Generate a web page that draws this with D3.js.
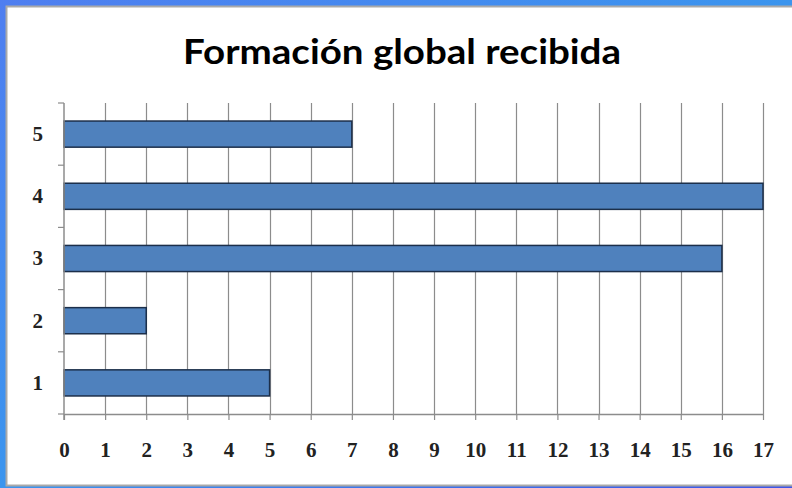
<!DOCTYPE html>
<html>
<head>
<meta charset="utf-8">
<script src="https://cdn.jsdelivr.net/npm/d3@7"></script>
<style>
  body { margin: 0; overflow: hidden; }
  svg { display: block; }
</style>
</head>
<body>
<script>
var width = 792,
    height = 488;

// data
var categories = ['1', '2', '3', '4', '5'];
var values = [5, 2, 16, 17, 7];
var xTicks = d3.range(0, 18);
var title = 'Formación global recibida';

var margin = {top: 103, left: 64, right: 29, bottom: 74};

var svg = d3.select('body').append('svg')
    .attr('width', width)
    .attr('height', height);

// blue frame behind the white panel
var defs = svg.append('defs');
var grad = defs.append('linearGradient')
    .attr('id', 'frame')
    .attr('x1', 0).attr('y1', 0).attr('x2', 1).attr('y2', 1);
grad.append('stop').attr('offset', '0%').attr('stop-color', '#4f7ef0');
grad.append('stop').attr('offset', '50%').attr('stop-color', '#3b95ee');
grad.append('stop').attr('offset', '100%').attr('stop-color', '#3f55e8');

svg.append('rect')
    .attr('width', width)
    .attr('height', height)
    .attr('fill', 'url(#frame)');

svg.append('rect')
    .attr('x', 6.5)
    .attr('y', 6.5)
    .attr('width', width)
    .attr('height', 479)
    .attr('fill', '#fff')
    .attr('stroke', '#a9a9a9')
    .attr('stroke-width', 2);

svg.append('text')
    .attr('x', 402)
    .attr('y', 64)
    .attr('text-anchor', 'middle')
    .attr('textLength', 438)
    .attr('lengthAdjust', 'spacingAndGlyphs')
    .style('font-family', 'Lato, "Open Sans", sans-serif')
    .style('font-weight', 'bold')
    .style('font-size', '35px')
    .style('fill', '#000')
    .text(title);

var x = d3.scaleLinear()
    .domain([0, 17])
    .range([margin.left, width - margin.right]);

var y = d3.scaleBand()
    .domain(categories.slice().reverse())
    .range([margin.top, height - margin.bottom])
    .paddingInner(0.58)
    .paddingOuter(0.29);

var plotBottom = height - margin.bottom;

// vertical gridlines
svg.append('g')
    .selectAll('line')
    .data(xTicks.slice(1))
    .enter().append('line')
    .attr('x1', function (d) { return Math.round(x(d)) + 0.5; })
    .attr('x2', function (d) { return Math.round(x(d)) + 0.5; })
    .attr('y1', margin.top)
    .attr('y2', plotBottom)
    .attr('stroke', '#8c8c8c')
    .attr('stroke-width', 1.2);

// bars
svg.append('g')
    .selectAll('rect')
    .data(values)
    .enter().append('rect')
    .attr('x', x(0))
    .attr('y', function (d, i) { return y(categories[i]); })
    .attr('width', function (d) { return x(d) - x(0); })
    .attr('height', y.bandwidth())
    .attr('fill', '#4f81bd')
    .attr('stroke', '#1c2f4a')
    .attr('stroke-width', 1.5);

var labelFont = '"Liberation Serif", "DejaVu Serif", serif';

// x axis
var xAxis = svg.append('g')
    .attr('transform', 'translate(0,' + plotBottom + ')')
    .call(d3.axisBottom(x).tickValues(xTicks).tickSize(6).tickSizeOuter(0).tickPadding(22));
xAxis.attr('font-size', null).attr('font-family', null);
xAxis.select('.domain').attr('stroke', '#8c8c8c').attr('stroke-width', 1.5);
xAxis.selectAll('.tick line').attr('stroke', '#8c8c8c').attr('stroke-width', 1.2);
xAxis.selectAll('.tick text')
    .style('font-family', labelFont)
    .style('font-weight', 'bold')
    .style('font-size', '21px')
    .style('fill', '#222');

// y axis: ticks sit on the band boundaries
var bounds = d3.range(0, categories.length + 1).map(function (i) {
    return margin.top + i * y.step();
});
var yAxis = svg.append('g');
yAxis.append('line')
    .attr('x1', x(0)).attr('x2', x(0))
    .attr('y1', margin.top).attr('y2', plotBottom + 6)
    .attr('stroke', '#8c8c8c')
    .attr('stroke-width', 1.5);
yAxis.selectAll('.ytick')
    .data(bounds)
    .enter().append('line')
    .attr('class', 'ytick')
    .attr('x1', x(0) - 6).attr('x2', x(0))
    .attr('y1', function (d) { return d; })
    .attr('y2', function (d) { return d; })
    .attr('stroke', '#8c8c8c')
    .attr('stroke-width', 1.2);
yAxis.selectAll('text')
    .data(categories)
    .enter().append('text')
    .attr('x', 43)
    .attr('y', function (d) { return y(d) + y.bandwidth() / 2; })
    .attr('dy', '0.33em')
    .attr('text-anchor', 'end')
    .style('font-family', labelFont)
    .style('font-weight', 'bold')
    .style('font-size', '21px')
    .style('fill', '#222')
    .text(function (d) { return d; });
</script>
</body>
</html>
